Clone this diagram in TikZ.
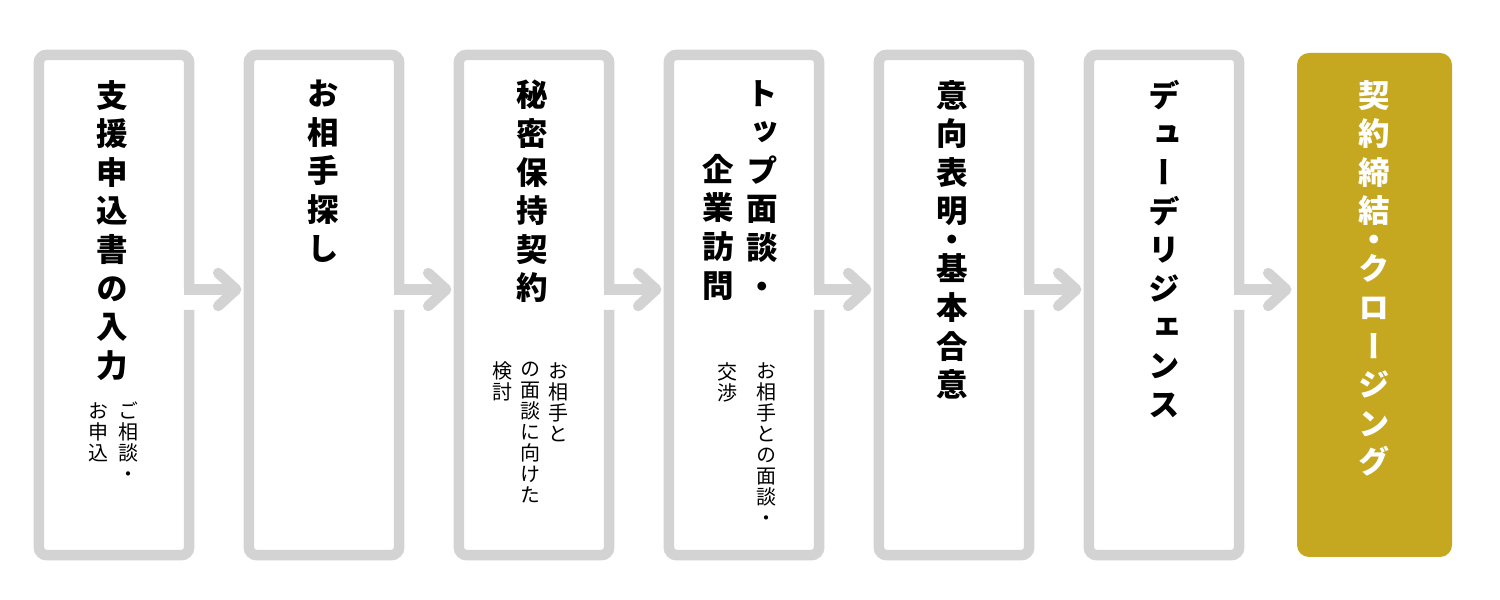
\documentclass[tikz,border=0pt]{standalone}
\usepackage{fontspec}
\newfontfamily\jp[RawFeature=+vert]{Noto Sans CJK JP}
\definecolor{framegray}{RGB}{211,211,211}
\definecolor{gold}{RGB}{197,167,32}
\newcommand\vkhalf{}
\def\vchars#1{\ifx\relax#1\else\ifx\vkhalf#1\vskip-9.65pt\else\hbox to 0pt{\hss#1\hss}\fi\expandafter\vchars\fi}
\newcommand\vcol[2]{\vbox{\baselineskip=#1\lineskiplimit=-\maxdimen\lineskip=0pt\parskip=0pt\vchars#2\relax}}
\tikzset{
  stepbox/.style={inner sep=0pt, minimum width=150pt, minimum height=500pt, draw=none},
  goldbox/.style={inner sep=0pt, minimum width=155pt, minimum height=504pt, fill=gold, rounded corners=12pt, draw=none},
  frame/.style={draw=framegray, line width=10.5pt},
  chev/.style={draw=framegray, line width=10.5pt, line cap=round, line join=round},
  ttl/.style={inner sep=0pt, anchor=north, font=\jp\bfseries\fontsize{31.5}{38.6}\selectfont},
  sub/.style={inner sep=0pt, anchor=north, font=\jp\fontsize{20}{21}\selectfont},
}
\begin{document}
\begin{tikzpicture}[x=1pt,y=1pt]
\useasboundingbox (0,0) rectangle (1500,600);
\fill[white] (0,0) rectangle (1500,600);
% boxes
\foreach \i in {1,...,6}{
  \node[stepbox] (b\i) at ({114+210*(\i-1)},295) {};
  \draw[frame, rounded corners=8pt] ([yshift=-5pt]b\i.east) -- (b\i.south east) -- (b\i.south west) -- (b\i.north west) -- (b\i.north east) -- ([yshift=15.5pt]b\i.east);
  \coordinate (a\i) at ([yshift=15.5pt]b\i.east);
  \coordinate (h\i) at ([xshift=47pt]a\i);
  \draw[frame] ([xshift=-5.25pt]a\i) -- (h\i);
  \draw[chev] ([shift={(-18pt,16.5pt)}]h\i) -- (h\i) -- ([shift={(-18pt,-16.5pt)}]h\i);
}
\node[goldbox] (b7) at (1374.5,295) {};
% titles
\node[ttl] (t1) at (112,520) {\vcol{38.6pt}{支援申込書の入力}};
\node[ttl] (t2) at (323,520) {\vcol{38.6pt}{お相手探し}};
\node[ttl] (t3) at (532,520) {\vcol{38.6pt}{秘密保持契約}};
\node[ttl] (t4a) at (762,520) {\vcol{38.6pt}{トップ面談・}};
\node[ttl] (t4b) at (718,446) {\vcol{38.6pt}{企業訪問}};
\node[ttl] (t5) at (952,520) {\vcol{38.6pt}{意向表明\vkhalf ・\vkhalf 基本合意}};
\node[ttl] (t6) at (1164,520) {\vcol{38.6pt}{デューデリジェンス}};
\node[ttl, text=white] (t7) at (1374,520) {\vcol{38.6pt}{契約締結\vkhalf ・\vkhalf クロージング}};
% sub texts
\node[sub] (s1a) at (128,198) {\vcol{21pt}{ご相談・}};
\node[sub] (s1b) at (98,198) {\vcol{21pt}{お申込}};
\node[sub] (s3a) at (558,238) {\vcol{21pt}{お相手と}};
\node[sub] (s3b) at (530,238) {\vcol{21pt}{の面談に向けた}};
\node[sub] (s3c) at (502,238) {\vcol{21pt}{検討}};
\node[sub] (s4a) at (766,238) {\vcol{21pt}{お相手との面談・}};
\node[sub] (s4b) at (727,238) {\vcol{21pt}{交渉}};
\end{tikzpicture}
\end{document}
